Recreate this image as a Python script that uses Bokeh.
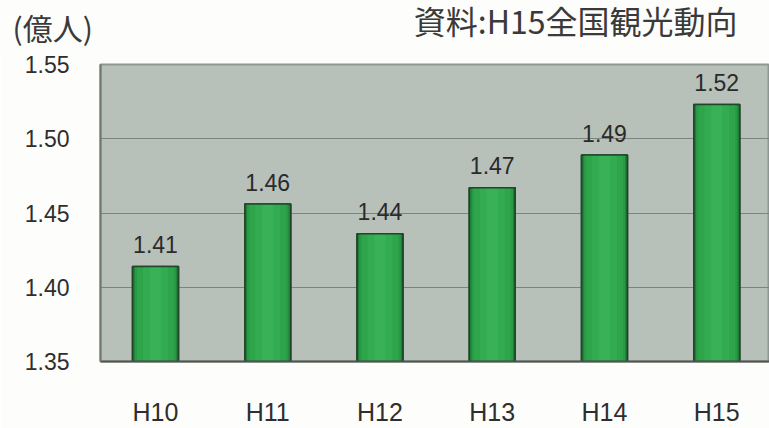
from bokeh.plotting import figure
from bokeh.models import Range1d, FixedTicker, Label, ColumnDataSource
from bokeh.layouts import column
from bokeh.core.properties import value
from bokeh.embed import file_html
from bokeh.resources import INLINE

categories = ["H10", "H11", "H12", "H13", "H14", "H15"]
values = [1.414, 1.456, 1.436, 1.467, 1.489, 1.523]
value_labels = ["1.41", "1.46", "1.44", "1.47", "1.49", "1.52"]
y_ticks = [1.35, 1.40, 1.45, 1.50, 1.55]
y_tick_labels = ["1.35", "1.40", "1.45", "1.50", "1.55"]
unit_label = "(億人)"
source_label = "資料:H15全国観光動向"

BG = "#fdfdfb"
HEADER_H = 52

# ---- header strip with the unit and source texts ----
head = figure(width=769, height=HEADER_H, output_backend="svg", toolbar_location=None,
              x_axis_type=None, y_axis_type=None,
              x_range=Range1d(0, 769), y_range=Range1d(0, HEADER_H),
              min_border=0, min_border_left=0, min_border_right=0,
              min_border_top=0, min_border_bottom=0)
head.frame_align = False
head.background_fill_color = BG
head.border_fill_color = BG
head.outline_line_color = None
head.grid.visible = False
head.add_layout(Label(x=12, y=HEADER_H - 26.5, x_units="screen", y_units="screen",
                      text=unit_label, text_font="Noto Sans CJK JP", text_font_size="30px",
                      text_baseline="middle", text_align="left", text_color="#3a3a3a"))
head.add_layout(Label(x=737, y=HEADER_H - 19.5, x_units="screen", y_units="screen",
                      text=source_label, text_font="Noto Sans CJK JP", text_font_size="32px",
                      text_baseline="middle", text_align="right", text_color="#3a3a3a"))

# ---- main bar chart ----
xs = list(range(len(categories)))
src = ColumnDataSource(dict(x=xs, top=values, label=value_labels))

p = figure(width=769, height=428 - HEADER_H, output_backend="svg", toolbar_location=None,
           x_range=Range1d(-0.49, 5.47), y_range=Range1d(1.35, 1.55),
           min_border_left=100, min_border_right=0,
           min_border_top=64 - HEADER_H, min_border_bottom=61)
p.frame_align = False

p.background_fill_color = "#b8c0ba"
p.border_fill_color = BG
p.outline_line_color = "#8f9792"
p.outline_line_width = 2

p.xgrid.grid_line_color = None
p.ygrid.grid_line_color = "#7c847e"
p.ygrid.grid_line_width = 1.2
p.ygrid.ticker = FixedTicker(ticks=y_ticks)

p.yaxis.ticker = FixedTicker(ticks=y_ticks)
p.yaxis.major_label_overrides = {t: s for t, s in zip(y_ticks, y_tick_labels)}
p.xaxis.ticker = FixedTicker(ticks=xs)
p.xaxis.major_label_overrides = {i: c for i, c in zip(xs, categories)}

for ax in (p.xaxis, p.yaxis):
    ax.major_tick_line_color = None
    ax.minor_tick_line_color = None
    ax.major_label_text_font = "Liberation Sans"
    ax.major_label_text_color = "#2e2e2e"

p.yaxis.axis_line_color = "#6f7772"
p.yaxis.axis_line_width = 2
p.xaxis.axis_line_color = "#50554f"
p.xaxis.axis_line_width = 2
p.yaxis.major_label_text_font_size = "23px"
p.xaxis.major_label_text_font_size = "25px"
p.yaxis.major_label_standoff = 25
p.xaxis.major_label_standoff = 30

# bars with layered shading to imitate the cylinder gradient
p.vbar(x="x", top="top", bottom=1.35, width=0.41, source=src,
       fill_color="#1e7f37", line_color="#22452c", line_width=1.5)
for w, c in [(0.37, "#289a44"), (0.33, "#2ea54b"), (0.22, "#33ac51"), (0.10, "#38b256")]:
    p.vbar(x="x", top="top", bottom=1.35, width=w, source=src,
           fill_color=c, line_color=None)
p.vbar(x="x", top="top", bottom=1.35, width=0.41, source=src,
       fill_color=None, line_color="#22452c", line_width=1.5)

p.text(x="x", y="top", text="label", source=src, text_align="center",
       text_baseline="alphabetic", y_offset=-22, text_font_size="23px",
       text_font=value("Liberation Sans"), text_color="#2a2a2a")

layout = column(head, p, spacing=0)
open("out.html", "w").write(file_html(layout, INLINE))
